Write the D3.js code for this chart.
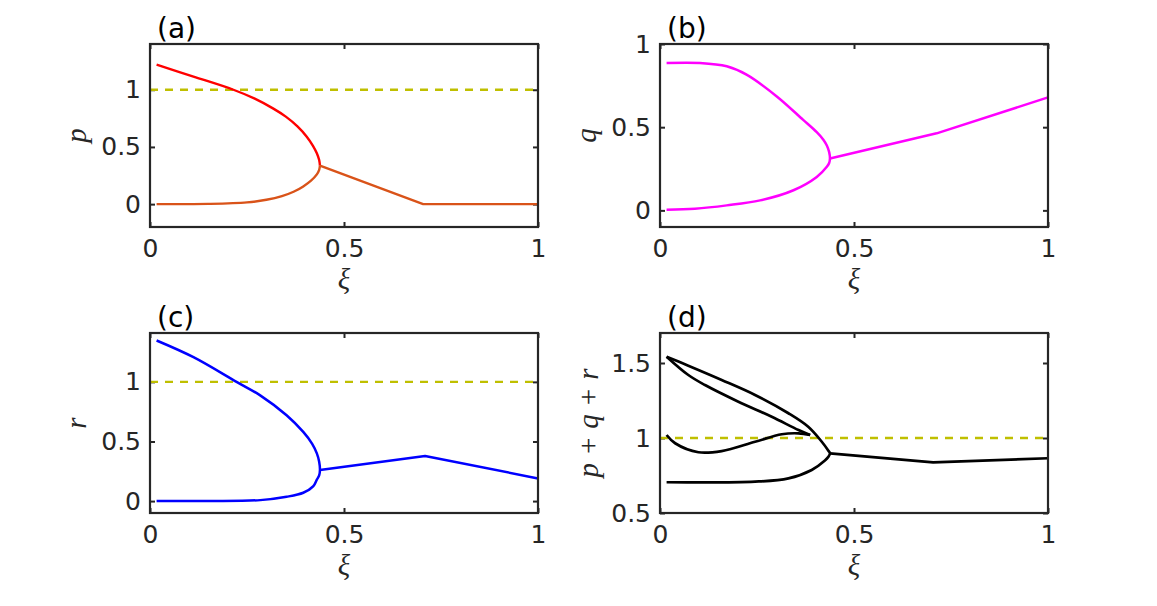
<!DOCTYPE html>
<html lang="en">
<head>
<meta charset="UTF-8">
<title>Bifurcation panels</title>
<script src="https://d3js.org/d3.v7.min.js"></script>
<style>
    body { margin: 0; background: #fff; }
    .tick text { font-family: "DejaVu Sans", sans-serif; font-size: 25px; fill: #262626; }
    .tick line { stroke: #262626; stroke-width: 2; }
    .math { font-family: "Liberation Serif", serif; font-style: italic; font-size: 29px; fill: #262626; }
    .panel-label { font-family: "DejaVu Sans", sans-serif; font-size: 28px; fill: #000; }
</style>
</head>
<body>
<script>
// (a) p
const pUpper = [[0.017,1.22],[0.112,1.115],[0.215,1.0],[0.27,0.922],[0.318,0.835],[0.35,0.765],[0.38,0.68],[0.404,0.59],[0.42,0.51],[0.43,0.445],[0.436,0.385],[0.438,0.336]];
const pLower = [[0.438,0.336],[0.436,0.3],[0.43,0.26],[0.415,0.205],[0.395,0.155],[0.37,0.108],[0.34,0.07],[0.3,0.038],[0.25,0.015],[0.15,0.002],[0.017,0]];
const pRight = [[0.438,0.336],[0.704,0],[1.0,0]];
// (b) q
const qUpper = [[0.017,0.886],[0.103,0.886],[0.172,0.866],[0.223,0.816],[0.301,0.685],[0.369,0.544],[0.404,0.47],[0.421,0.425],[0.43,0.39],[0.436,0.35],[0.438,0.312]];
const qLower = [[0.438,0.312],[0.436,0.285],[0.43,0.262],[0.404,0.201],[0.344,0.121],[0.258,0.06],[0.172,0.03],[0.09,0.01],[0.017,0.004]];
const qRight = [[0.438,0.312],[0.713,0.463],[1.0,0.679]];
// (c) r
const rUpper = [[0.017,1.347],[0.112,1.207],[0.223,1.0],[0.284,0.887],[0.352,0.72],[0.395,0.58],[0.418,0.48],[0.43,0.4],[0.436,0.33],[0.438,0.26]];
const rLower = [[0.438,0.26],[0.436,0.215],[0.43,0.18],[0.421,0.125],[0.395,0.07],[0.352,0.036],[0.284,0.008],[0.15,0.001],[0.017,0]];
const rRight = [[0.438,0.26],[0.709,0.379],[1.0,0.19]];
// (d) p+q+r
const sOuter = [[0.017,1.542],[0.073,1.482],[0.159,1.387],[0.245,1.287],[0.331,1.165],[0.382,1.075],[0.417,0.975],[0.434,0.915],[0.438,0.898]];
const sInner = [[0.017,1.542],[0.073,1.42],[0.116,1.353],[0.202,1.242],[0.288,1.142],[0.357,1.053],[0.387,1.02]];
const sMiddle = [[0.017,1.02],[0.039,0.965],[0.099,0.905],[0.159,0.913],[0.245,0.975],[0.314,1.025],[0.357,1.031],[0.387,1.02]];
const sBottom = [[0.438,0.898],[0.434,0.875],[0.425,0.85],[0.391,0.787],[0.331,0.731],[0.245,0.709],[0.017,0.705]];
const sRight = [[0.438,0.898],[0.704,0.838],[1.0,0.865]];

const xTicks = [0, 0.5, 1];
const width = 1157, height = 606;

const smooth = d3.curveCatmullRom.alpha(0.5);
const straight = d3.curveLinear;

const panels = [
    {label: "(a)", x: 150, y: 44, w: 388, h: 183, yDomain: [-0.2, 1.4], yTicks: [0, 0.5, 1], ylab: ["p"], ref: true,
     series: [{d: pUpper, c: "#ff0000", w: 2.4, k: smooth}, {d: pLower, c: "#d95319", w: 2.4, k: smooth},
              {d: pRight, c: "#d95319", w: 2.4, k: straight}]},
    {label: "(b)", x: 660, y: 44, w: 388, h: 183, yDomain: [-0.1, 1], yTicks: [0, 0.5, 1], ylab: ["q"], ref: false,
     series: [{d: qUpper.concat(qLower.slice(1)), c: "#ff00ff", w: 2.5, k: smooth}, {d: qRight, c: "#ff00ff", w: 2.5, k: straight}]},
    {label: "(c)", x: 150, y: 333, w: 388, h: 180, yDomain: [-0.1, 1.41], yTicks: [0, 0.5, 1], ylab: ["r"], ref: true,
     series: [{d: rUpper.concat(rLower.slice(1)), c: "#0000ff", w: 2.5, k: smooth}, {d: rRight, c: "#0000ff", w: 2.5, k: straight}]},
    {label: "(d)", x: 660, y: 333, w: 388, h: 180, yDomain: [0.5, 1.7], yTicks: [0.5, 1, 1.5], ylab: ["p", "+", "q", "+", "r"], ref: true,
     series: [{d: sOuter.concat(sBottom.slice(1)), c: "#000", w: 2.7, k: smooth}, {d: sInner, c: "#000", w: 2.7, k: smooth},
              {d: sMiddle, c: "#000", w: 2.7, k: smooth}, {d: sRight, c: "#000", w: 2.7, k: straight}]}
];

const svg = d3.select("body").append("svg").attr("width", width).attr("height", height);

panels.forEach(pn => {
    const x = d3.scaleLinear().domain([0, 1]).range([0, pn.w]);
    const y = d3.scaleLinear().domain(pn.yDomain).range([pn.h, 0]);
    const g = svg.append("g").attr("transform", `translate(${pn.x},${pn.y})`);

    // axes, ticks pointing inward like matlab
    const fmt = d => d3.format("")(d);
    g.append("g").attr("transform", `translate(0,${pn.h})`)
        .call(d3.axisBottom(x).tickValues(xTicks).tickSize(-5).tickPadding(12).tickFormat(fmt))
        .call(a => a.select(".domain").remove())
        .call(a => a.selectAll("text").attr("dy", "0.71em"));
    g.append("g")
        .call(d3.axisTop(x).tickValues(xTicks).tickSize(-5).tickFormat(""))
        .call(a => a.select(".domain").remove());
    g.append("g")
        .call(d3.axisLeft(y).tickValues(pn.yTicks).tickSize(-5).tickPadding(9).tickFormat(fmt))
        .call(a => a.select(".domain").remove());
    g.append("g").attr("transform", `translate(${pn.w},0)`)
        .call(d3.axisRight(y).tickValues(pn.yTicks).tickSize(-5).tickFormat(""))
        .call(a => a.select(".domain").remove());

    if (pn.ref) {
        g.append("line")
            .attr("x1", x(0)).attr("x2", x(1))
            .attr("y1", y(1)).attr("y2", y(1))
            .attr("stroke", "#bfbf00").attr("stroke-width", 2.4)
            .attr("stroke-dasharray", "8,7");
    }

    pn.series.forEach(s => {
        const line = d3.line().x(d => x(d[0])).y(d => y(d[1])).curve(s.k);
        g.append("path").datum(s.d)
            .attr("d", line)
            .attr("fill", "none")
            .attr("stroke", s.c)
            .attr("stroke-width", s.w)
            .attr("stroke-linejoin", "round");
    });

    g.append("rect").attr("width", pn.w).attr("height", pn.h)
        .attr("fill", "none").attr("stroke", "#262626").attr("stroke-width", 2.2);

    // labels
    g.append("text").attr("class", "panel-label")
        .attr("x", 7).attr("y", -6).text(pn.label);

    g.append("text").attr("class", "math")
        .attr("x", pn.w / 2).attr("y", pn.h + 62)
        .attr("text-anchor", "middle").text("ξ");

    const yl = g.append("text").attr("class", "math")
        .attr("transform", `translate(${pn.ylab.length > 1 ? -62 : -64},${pn.h / 2}) rotate(-90)`)
        .attr("text-anchor", "middle");
    pn.ylab.forEach((t, i) => {
        yl.append("tspan")
            .style("font-style", t === "+" ? "normal" : "italic")
            .attr("dx", i === 0 ? 0 : 9)
            .text(t);
    });
});
</script>
</body>
</html>
